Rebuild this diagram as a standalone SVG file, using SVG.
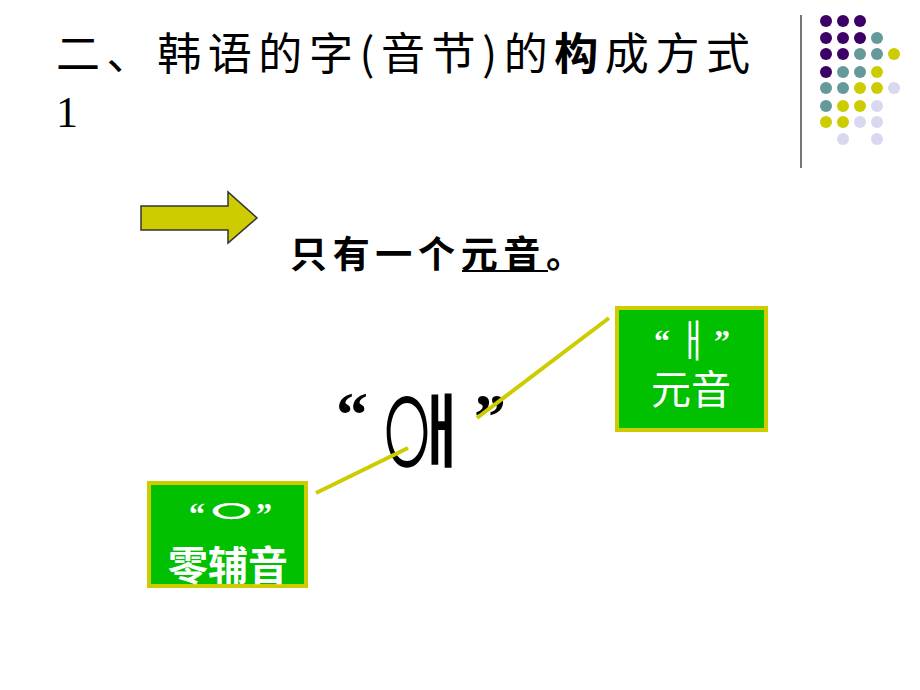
<svg xmlns="http://www.w3.org/2000/svg" width="920" height="690" viewBox="0 0 920 690">
<style>
.cjk{font-family:"Noto Sans CJK SC","Noto Sans CJK KR",sans-serif;}
.kr{font-family:"Noto Sans CJK KR","Noto Sans CJK SC",sans-serif;}
.q{font-family:"Liberation Serif",serif;font-weight:bold;}
.box{fill:#00C000;stroke:#CCCC00;stroke-width:4;}
.wt{fill:#ffffff;}
.conn{stroke:#CCCC00;stroke-width:4;stroke-linecap:butt;}
.p{fill:#3D0066;}.t{fill:#669999;}.y{fill:#CCCC00;}.l{fill:#D8D8F0;}
</style>
<rect width="920" height="690" fill="#ffffff"/>
<g id="title">
<text class="cjk" x="56" y="70" font-size="44" textLength="694" lengthAdjust="spacing" fill="#000">二、韩语的字(音节)的<tspan font-weight="bold">构</tspan>成方式</text>
<text x="56" y="127" font-family="Liberation Serif,serif" font-size="44" fill="#000">1</text>
</g>
<g id="decor">
<line x1="801" y1="15" x2="801" y2="168" stroke="#777777" stroke-width="2"/>
<circle class="p" cx="826" cy="21" r="6"/><circle class="p" cx="843" cy="21" r="6"/><circle class="p" cx="860" cy="21" r="6"/>
<circle class="p" cx="826" cy="38" r="6"/><circle class="p" cx="843" cy="38" r="6"/><circle class="p" cx="860" cy="38" r="6"/><circle class="t" cx="877" cy="38" r="6"/>
<circle class="p" cx="826" cy="54" r="6"/><circle class="p" cx="843" cy="54" r="6"/><circle class="t" cx="860" cy="54" r="6"/><circle class="t" cx="877" cy="54" r="6"/><circle class="y" cx="894" cy="54" r="6"/>
<circle class="p" cx="826" cy="72" r="6"/><circle class="t" cx="843" cy="72" r="6"/><circle class="t" cx="860" cy="72" r="6"/><circle class="y" cx="877" cy="72" r="6"/>
<circle class="t" cx="826" cy="88" r="6"/><circle class="t" cx="843" cy="88" r="6"/><circle class="y" cx="860" cy="88" r="6"/><circle class="y" cx="877" cy="88" r="6"/><circle class="l" cx="894" cy="88" r="6"/>
<circle class="t" cx="826" cy="106" r="6"/><circle class="y" cx="843" cy="106" r="6"/><circle class="y" cx="860" cy="106" r="6"/><circle class="l" cx="877" cy="106" r="6"/>
<circle class="y" cx="826" cy="122" r="6"/><circle class="y" cx="843" cy="122" r="6"/><circle class="l" cx="860" cy="122" r="6"/><circle class="l" cx="877" cy="122" r="6"/>
<circle class="l" cx="843" cy="139" r="6"/><circle class="l" cx="877" cy="139" r="6"/>
</g>
<g id="arrow">
<polygon points="141,206 228,206 228,192 257,218 228,243 228,230 141,230" fill="#CCCC00" stroke="#333333" stroke-width="1.5"/>
</g>
<g id="subtitle">
<text class="cjk" x="290" y="268" font-size="37" font-weight="bold" textLength="293" lengthAdjust="spacing" fill="#000">只有一个元音。</text>
<line x1="462" y1="271" x2="548" y2="271" stroke="#000" stroke-width="2"/>
</g>
<g id="syllable">
<text class="q" x="336" y="436" font-size="64" fill="#000">“</text>
<text class="kr" x="0" y="0" font-size="148" font-weight="300" fill="#000" transform="translate(373,487) scale(0.5,1)">ㅇ</text>
<text class="kr" x="0" y="0" font-size="80" font-weight="bold" fill="#000" transform="translate(416,460) scale(0.68,1)">ㅐ</text>
<text class="q" x="474" y="438" font-size="64" fill="#000">”</text>
</g>
<g id="connectors">
<line class="conn" x1="316" y1="493" x2="408" y2="448"/>
<line class="conn" x1="477" y1="418" x2="609" y2="318"/>
</g>
<g id="vowel">
<rect class="box" x="617" y="308" width="149" height="122"/>
<text class="q wt" x="654" y="352" font-size="32">“</text>
<text class="kr wt" x="0" y="0" font-size="44" transform="translate(679,357) scale(0.7,1)">ㅐ</text>
<text class="q wt" x="714" y="352" font-size="32">”</text>
<text class="wt cjk" x="691" y="404" font-size="40" text-anchor="middle">元音</text>
</g>
<g id="zero-consonant">
<rect class="box" x="149" y="483" width="157" height="103"/>
<text class="q wt" x="189" y="525" font-size="32">“</text>
<text class="kr wt" x="0" y="0" font-size="66" transform="translate(201,523) scale(1,0.48)">ㅇ</text>
<text class="q wt" x="256" y="525" font-size="32">”</text>
<text class="wt cjk" x="228" y="580" font-size="40" font-weight="bold" text-anchor="middle">零辅音</text>
</g>
</svg>
